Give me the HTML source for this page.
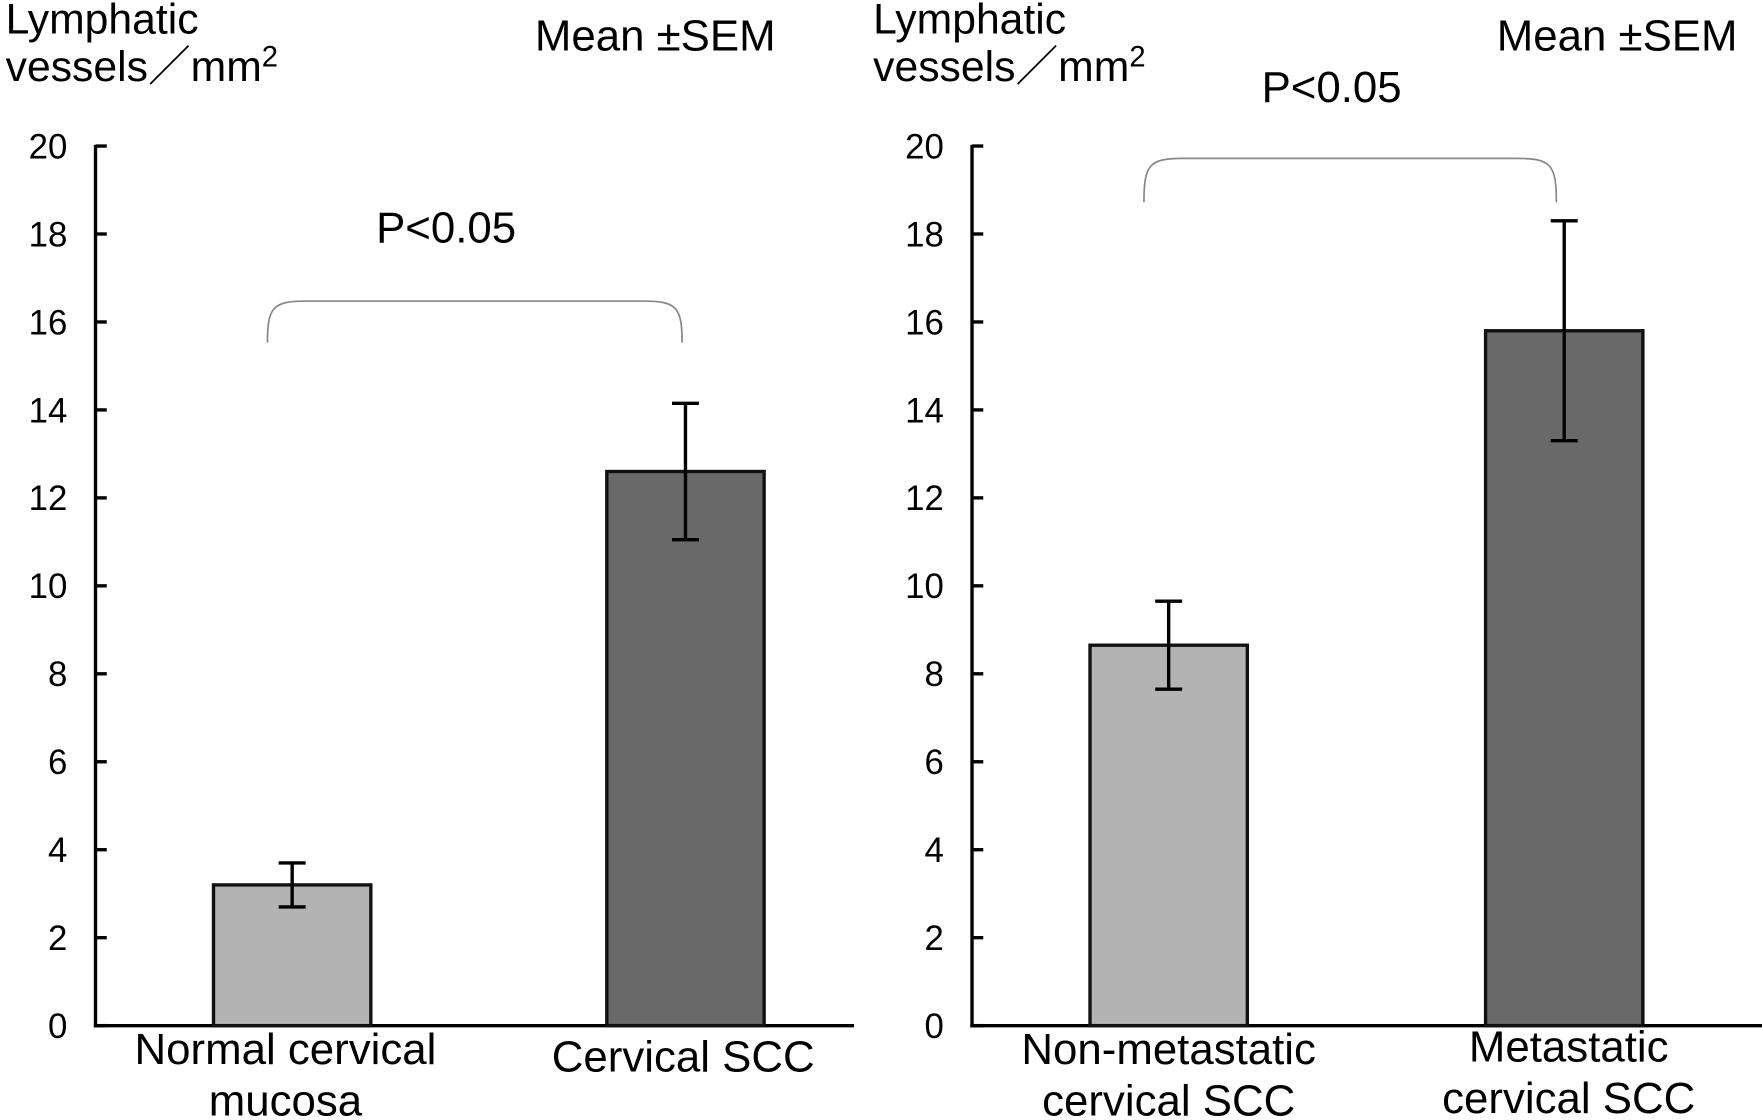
<!DOCTYPE html>
<html><head><meta charset="utf-8"><style>
html,body{margin:0;padding:0;background:#fff}
svg{display:block}
text{font-family:"Liberation Sans",Arial,sans-serif;fill:#000}
</style></head><body>
<svg id="chart" width="1762" height="1120" viewBox="0 0 1568 997" preserveAspectRatio="none" xmlns="http://www.w3.org/2000/svg"></svg>
<script>
const ticks = [0,2,4,6,8,10,12,14,16,18,20];
const leftCats = [["Normal cervical","mucosa"],["Cervical SCC"]];
const leftVals = [3.2, 12.6];
const leftErr = [0.5, 1.55];
const rightCats = [["Non-metastatic","cervical SCC"],["Metastatic","cervical SCC"]];
const rightVals = [8.65, 15.8];
const rightErr = [1.0, 2.5];
const pText = "P<0.05";

const NS="http://www.w3.org/2000/svg";
const svg=document.getElementById('chart');
function mk(tag,attrs,parent){const e=document.createElementNS(NS,tag);for(const k in attrs)e.setAttribute(k,attrs[k]);(parent||svg).appendChild(e);return e;}
const y0=913,y20=130;
function yScale(v){return y0-(v/20)*(y0-y20);}

function panel(ax,xEnd,cats,vals,errs,barXs,bracket,pPos,labelYs,labelDx,meanX,titleX,name){
  const g=mk('g',{});
  
  
  const t1=mk('text',{x:titleX,y:30,'font-size':38},g);t1.textContent='Lymphatic';
  
  const t2=mk('text',{x:titleX,y:72,'font-size':38},g);
  t2.innerHTML='vessels／mm<tspan font-size="26" dy="-13">2</tspan>';
  
  const m=mk('text',{x:meanX,y:45,'font-size':39},g);m.textContent='Mean ±SEM';
  
  const ya=mk('line',{x1:ax,y1:y20-1,x2:ax,y2:y0+1.5,stroke:'#000','stroke-width':3},g);
  
  const xa=mk('line',{x1:ax-1.5,y1:y0,x2:xEnd,y2:y0,stroke:'#000','stroke-width':3},g);
  
  ticks.forEach(v=>{
    const y=yScale(v);
    const tk=mk('line',{x1:ax,y1:y,x2:ax+10,y2:y,stroke:'#000','stroke-width':3},g);
    
    const tl=mk('text',{x:ax-25,y:y+11,'font-size':31,'text-anchor':'end'},g);
    tl.textContent=v;
    
  });
  const fills=['#b3b3b3','#696969'];
  vals.forEach((v,i)=>{
    const bx=barXs[i],bw=140;
    const r=mk('rect',{x:bx,y:yScale(v),width:bw,height:y0-yScale(v),fill:fills[i],stroke:'#111','stroke-width':3},g);
    
    const cx=bx+bw/2,hi=yScale(v+errs[i]),lo=yScale(v-errs[i]);
    const eb=mk('path',{d:`M${cx},${hi}V${lo}M${cx-12},${hi}H${cx+12}M${cx-12},${lo}H${cx+12}`,stroke:'#000','stroke-width':3,fill:'none'},g);
    
    cats[i].forEach((ln,j)=>{
      const ct=mk('text',{x:cx+labelDx[i],y:labelYs[i]+j*46,'font-size':39,'text-anchor':'middle'},g);
      ct.textContent=ln;
      
    });
  });
  const [bx1,bx2,by,bb]=bracket;
  const br=mk('path',{d:`M${bx1},${bb}C${bx1},${by+5} ${bx1+5},${by} ${bx1+35},${by}H${bx2-35}C${bx2-5},${by} ${bx2},${by+5} ${bx2},${bb}`,stroke:'#888','stroke-width':1.5,fill:'none'},g);
  
  const p=mk('text',{x:pPos[0],y:pPos[1],'font-size':39,'text-anchor':'middle'},g);p.textContent=pText;
  
}
panel(85,760,leftCats,leftVals,leftErr,[190,540],[238,607,268,305],[397,216],[947,954],[-6,-2],476,5,'left-panel');
panel(865,1568,rightCats,rightVals,rightErr,[970,1322],[1018,1385,141,180],[1185,91],[947,945],[0,4],1332,777,'right-panel');
</script>
</body></html>
